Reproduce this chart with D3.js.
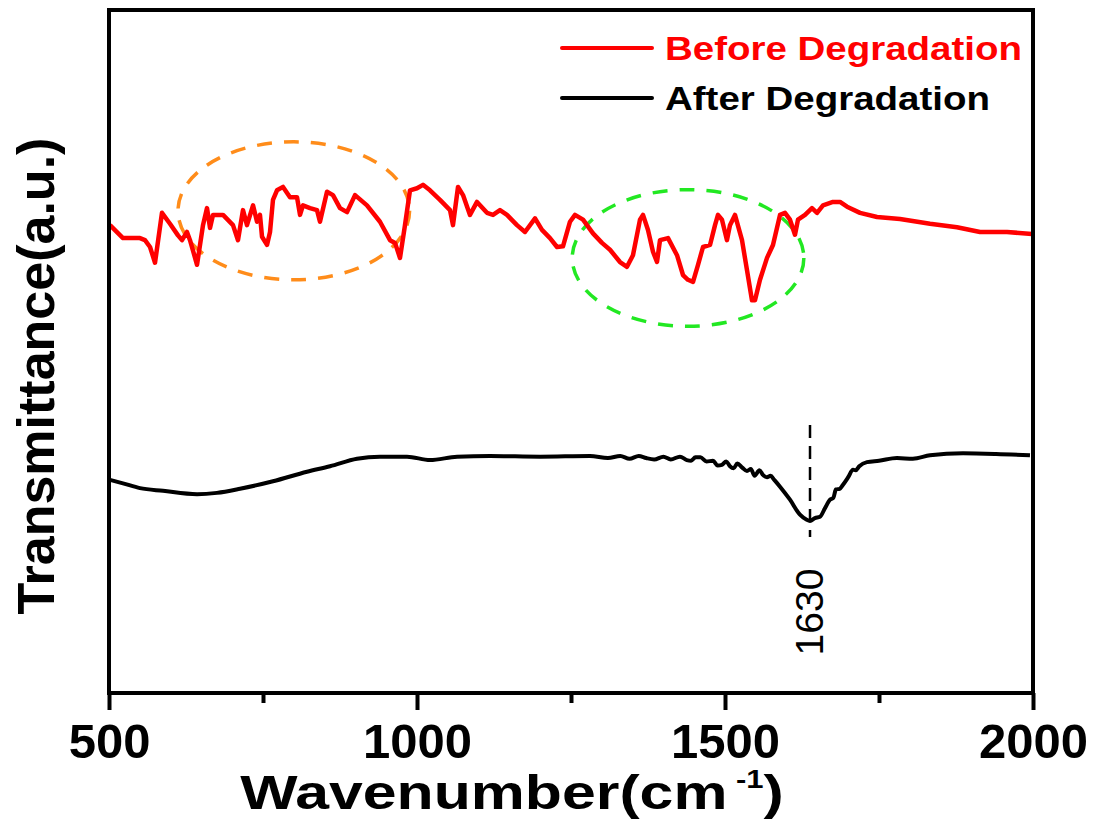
<!DOCTYPE html>
<html>
<head>
<meta charset="utf-8">
<script src="https://cdn.jsdelivr.net/npm/d3@7"></script>
<style>
  body { margin: 0; background: #fff; }
  text { font-family: "Liberation Sans", Arial, sans-serif; }
</style>
</head>
<body>
<script>
// FTIR spectra before / after degradation (arbitrary units)

var beforeWave = [501.6, 522.7, 550.3, 558.4, 566.6, 574.7, 586.0, 599.0, 612.0, 618.5, 626.6, 631.5, 642.9, 652.6,
    659.1, 664.0, 668.8, 685.1, 701.3, 709.4, 717.5, 724.0, 733.8, 740.3, 745.1, 748.4, 756.5, 761.4, 766.2, 772.7,
    782.5, 793.8, 805.2, 810.1, 814.9, 826.3, 837.7, 842.5, 853.9, 863.6, 875.0, 886.4, 899.4, 918.8, 939.9, 956.2,
    964.3, 972.4, 980.5, 988.6, 1000.0, 1009.7, 1021.1, 1037.3, 1053.6, 1058.4, 1066.6, 1074.7, 1086.0, 1097.4,
    1113.6, 1123.4, 1134.7, 1146.1, 1162.3, 1175.3, 1191.6, 1202.9, 1215.9, 1227.3, 1237.0, 1248.4, 1256.5, 1269.5,
    1285.7, 1300.3, 1313.3, 1329.5, 1340.9, 1350.6, 1362.0, 1366.9, 1375.0, 1383.1, 1389.6, 1394.5, 1407.5, 1422.1,
    1431.8, 1439.9, 1448.1, 1456.2, 1464.3, 1475.7, 1483.8, 1488.6, 1495.1, 1503.2, 1508.1, 1516.2, 1527.6, 1535.7,
    1543.8, 1548.7, 1556.8, 1568.2, 1577.9, 1589.3, 1597.4, 1605.5, 1613.6, 1618.5, 1629.9, 1641.2, 1649.4, 1659.1,
    1675.3, 1686.7, 1698.1, 1719.2, 1746.8, 1784.1, 1832.8, 1876.6, 1914.0, 1957.8, 1998.4];
var beforeT = [68.5, 66.6, 66.6, 66.3, 65.3, 63.0, 70.3, 68.7, 67.0, 66.3, 67.5, 66.3, 62.7, 68.5,
    71.0, 68.1, 70.0, 70.0, 68.5, 66.3, 70.7, 68.5, 71.4, 69.0, 70.0, 66.8, 65.6, 67.5, 72.2, 73.6,
    74.1, 72.6, 72.6, 70.0, 71.4, 71.0, 70.7, 69.0, 73.4, 72.9, 71.0, 70.4, 72.9, 71.4, 69.0, 66.3,
    65.9, 63.7, 68.5, 73.6, 73.9, 74.4, 73.6, 72.2, 70.7, 68.5, 74.1, 72.9, 70.0, 71.9,
    70.3, 70.0, 70.7, 70.0, 68.5, 67.5, 69.5, 67.8, 66.6, 65.3, 65.4, 69.0, 70.0, 69.3,
    67.3, 65.9, 64.9, 63.1, 62.4, 64.1, 69.3, 70.0, 67.8, 64.6, 63.1, 66.3, 66.6, 64.1,
    61.2, 60.5, 60.2, 62.7, 65.3, 65.6, 68.5, 70.0, 69.3, 66.3, 68.5, 70.0, 66.3, 61.9,
    57.5, 57.5, 60.5, 63.7, 65.6, 70.0, 70.3, 69.3, 67.1, 69.3, 70.0, 71.0, 70.3, 71.4,
    71.9, 71.9, 71.2, 70.3, 69.7, 69.4, 68.7, 68.2, 67.5, 67.5, 67.2];

var afterWave = [501.6, 522.7, 550.3, 587.7, 642.9, 675.3, 712.7, 766.2, 821.4, 858.8, 902.6, 939.9, 983.8,
    1021.1, 1065.0, 1118.5, 1200.0, 1280.8, 1310.0, 1330.0, 1345.0, 1360.0, 1372.0, 1385.0, 1400.0, 1412.0,
    1426.9, 1438.0, 1445.0, 1452.0, 1460.0, 1470.0, 1480.5, 1488.0, 1495.0, 1502.0, 1508.1, 1514.0, 1520.0,
    1528.0, 1535.7, 1542.0, 1548.0, 1556.0, 1562.0, 1568.2, 1574.0, 1580.0, 1589.3, 1605.5, 1621.7, 1632.0,
    1638.0, 1646.0, 1654.2, 1662.0, 1670.5, 1676.0, 1680.0, 1686.0, 1691.6, 1700.0, 1707.8, 1712.0, 1718.0,
    1730.5, 1750.0, 1779.2, 1805.0, 1832.8, 1886.4, 1940.0, 1995.1];
var afterT = [31.2, 30.7, 30.0, 29.6, 29.1, 29.3, 29.9, 31.0, 32.4, 33.2, 34.3, 34.6, 34.6,
    34.1, 34.6, 34.7, 34.6, 34.7, 34.4, 34.7, 34.3, 34.7, 34.4, 34.2, 34.6, 34.2,
    34.6, 34.1, 34.0, 34.5, 34.5, 33.9, 34.0, 33.3, 33.4, 33.9, 33.2, 32.9, 33.6,
    33.0, 32.5, 32.8, 31.8, 32.6, 31.9, 31.6, 31.8, 31.2, 30.2, 28.3, 26.1, 25.4,
    25.2, 25.6, 25.8, 27.0, 28.3, 28.6, 29.8, 29.9, 30.5, 31.6, 32.7, 32.6, 33.2,
    33.8, 34.0, 34.4, 34.3, 34.8, 35.1, 35.0, 34.8];

var xTicks = [500, 1000, 1500, 2000];
var xMinorTicks = [750, 1250, 1750];
var peakWave = 1638;
var peakLabel = "1630";
var seriesNames = ["Before Degradation", "After Degradation"];
var seriesColors = ["#ff0000", "#000000"];

// annotation ellipses: [centre wavenumber, centre T, half-width (cm-1), half-height (T)]
var orangeEllipse = [800, 70.6, 188, 10.1];
var greenEllipse = [1440, 63.7, 188, 10.0];

var width = 1093;
var height = 820;
// plot box (note: "top" is a reserved window name, so use pTop etc.)
var pLeft = 109, pRight = 1033, pTop = 10, pBottom = 693;

var svg = d3.select("body").
    append("svg").
    attr("width", width).
    attr("height", height);

var xScale = d3.scaleLinear().
    domain([500, 2000]).
    range([pLeft, pRight]);
var yScale = d3.scaleLinear().
    domain([0, 100]).
    range([pBottom, pTop]);

// ellipses go under the curves
function drawEllipse(e, colour) {
    svg.append("ellipse").
        attr("cx", xScale(e[0])).
        attr("cy", yScale(e[1])).
        attr("rx", xScale(e[0] + e[2]) - xScale(e[0])).
        attr("ry", yScale(e[1] - e[3]) - yScale(e[1])).
        attr("fill", "none").
        attr("stroke", colour).
        attr("stroke-width", 3.5).
        attr("stroke-dasharray", "15 12");
}
drawEllipse(orangeEllipse, "#ff8c1a");
drawEllipse(greenEllipse, "#22e822");

var before = beforeWave.map(function(w, i) { return [w, beforeT[i]]; });
var after = afterWave.map(function(w, i) { return [w, afterT[i]]; });

var line = d3.line().
    x(function(d) { return xScale(d[0]); }).
    y(function(d) { return yScale(d[1]); });

svg.append("path").
    datum(after).
    attr("d", line.curve(d3.curveMonotoneX)).
    attr("fill", "none").
    attr("stroke", seriesColors[1]).
    attr("stroke-width", 4).
    attr("stroke-linejoin", "round");

svg.append("path").
    datum(before).
    attr("d", line.curve(d3.curveLinear)).
    attr("fill", "none").
    attr("stroke", seriesColors[0]).
    attr("stroke-width", 4.5).
    attr("stroke-linejoin", "round");

// dashed marker at the 1630 band
svg.append("line").
    attr("x1", xScale(peakWave)).
    attr("x2", xScale(peakWave)).
    attr("y1", 425).
    attr("y2", 537).
    attr("stroke", "#000").
    attr("stroke-width", 2.5).
    attr("stroke-dasharray", "13 8");
svg.append("text").
    attr("transform", "translate(" + (xScale(peakWave) + 13) + ",612) rotate(-90)").
    attr("font-size", "39px").
    style("text-anchor", "middle").
    text(peakLabel);

// frame
svg.append("rect").
    attr("x", pLeft).
    attr("y", pTop).
    attr("width", pRight - pLeft).
    attr("height", pBottom - pTop).
    attr("fill", "none").
    attr("stroke", "#000").
    attr("stroke-width", 4);

// x axis with major + minor ticks
var xAxis = d3.axisBottom(xScale).
    tickValues(xTicks).
    tickSize(17).
    tickPadding(13).
    tickFormat(d3.format("d"));
var gx = svg.append("g").
    attr("transform", "translate(0," + pBottom + ")").
    call(xAxis);
gx.select(".domain").remove();
gx.selectAll(".tick line").attr("stroke-width", 4);
gx.selectAll(".tick text").
    attr("font-family", "Liberation Sans, Arial, sans-serif").
    attr("font-size", "49px").
    attr("font-weight", "bold").
    attr("fill", "#000");
svg.append("g").
    attr("transform", "translate(0," + pBottom + ")").
    call(d3.axisBottom(xScale).tickValues(xMinorTicks).tickSize(10).tickFormat("")).
    call(function(g) { g.select(".domain").remove(); }).
    selectAll(".tick line").attr("stroke-width", 4);

// axis titles (reference lettering is a little wider than Liberation, so stretch x)
var xTitle = svg.append("text").
    attr("transform", "translate(512,809) scale(1.24,1)").
    attr("font-size", "49px").
    attr("font-weight", "bold").
    style("text-anchor", "middle");
xTitle.append("tspan").text("Wavenumber(cm");
xTitle.append("tspan").attr("font-size", "25px").attr("dy", -21).text(" -1");
xTitle.append("tspan").attr("dy", 21).text(")");

svg.append("text").
    attr("transform", "translate(54,376) rotate(-90)").
    attr("font-size", "52px").
    attr("font-weight", "bold").
    style("text-anchor", "middle").
    text("Transmittance(a.u.)");

// legend
var legendWidths = [357, 325];
var legend = svg.append("g");
seriesNames.forEach(function(name, i) {
    var ly = 48 + i * 50;
    legend.append("line").
        attr("x1", 562).
        attr("x2", 652).
        attr("y1", ly).
        attr("y2", ly).
        attr("stroke", seriesColors[i]).
        attr("stroke-width", 4).
        attr("stroke-linecap", "round");
    legend.append("text").
        attr("x", 665).
        attr("y", ly + 12).
        attr("font-size", "33px").
        attr("font-weight", "bold").
        attr("textLength", legendWidths[i]).
        attr("lengthAdjust", "spacingAndGlyphs").
        attr("fill", seriesColors[i]).
        text(name);
});
</script>
</body>
</html>
